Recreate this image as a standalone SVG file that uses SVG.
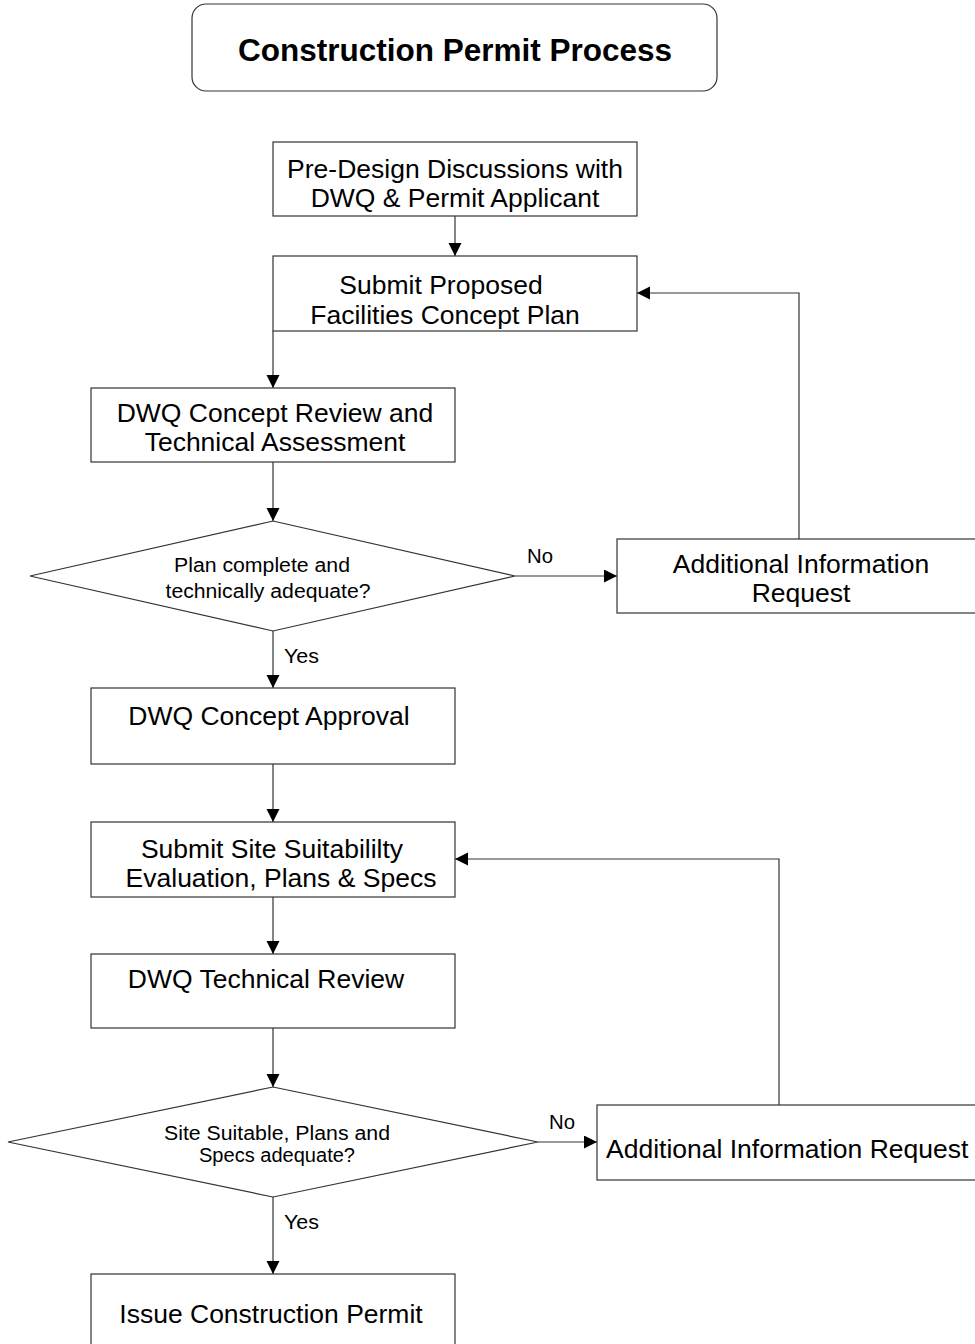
<svg xmlns="http://www.w3.org/2000/svg" width="975" height="1344" viewBox="0 0 975 1344">
<style>
.box{fill:#fff;stroke:#333;stroke-width:1.2}
.t{font-family:"Liberation Sans",Arial,sans-serif;font-size:26.5px;fill:#000;text-anchor:middle}
.d{font-family:"Liberation Sans",Arial,sans-serif;font-size:20px;fill:#000;text-anchor:middle}
.l{font-family:"Liberation Sans",Arial,sans-serif;font-size:20px;fill:#000}
.c{fill:none;stroke:#333;stroke-width:1.2}
</style>
<defs>
<marker id="ah" markerWidth="14" markerHeight="14" refX="13" refY="6.5" orient="auto" markerUnits="userSpaceOnUse">
<path d="M0,0 L13,6.5 L0,13 Z" fill="#000"/>
</marker>
</defs>
<rect width="975" height="1344" fill="#fff"/>
<g id="title">
<rect class="box" x="192" y="4" width="525" height="87" rx="14"/>
<text x="455" y="61" font-family="Liberation Sans,Arial,sans-serif" font-size="31.5" font-weight="bold" text-anchor="middle">Construction Permit Process</text>
</g>
<g id="connectors">
<path class="c" d="M455,216 V256" marker-end="url(#ah)"/>
<path class="c" d="M273,331 V388" marker-end="url(#ah)"/>
<path class="c" d="M273,462 V521" marker-end="url(#ah)"/>
<path class="c" d="M515,576 H617" marker-end="url(#ah)"/>
<path class="c" d="M799,539 V293 H637" marker-end="url(#ah)"/>
<path class="c" d="M273,631 V688" marker-end="url(#ah)"/>
<path class="c" d="M273,764 V822" marker-end="url(#ah)"/>
<path class="c" d="M273,897 V954" marker-end="url(#ah)"/>
<path class="c" d="M779,1105 V859 H455" marker-end="url(#ah)"/>
<path class="c" d="M273,1028 V1087" marker-end="url(#ah)"/>
<path class="c" d="M538,1142 H597" marker-end="url(#ah)"/>
<path class="c" d="M273,1197 V1274" marker-end="url(#ah)"/>
<text class="l" x="527" y="563" textLength="26" lengthAdjust="spacingAndGlyphs">No</text>
<text class="l" x="284" y="663" textLength="35" lengthAdjust="spacingAndGlyphs">Yes</text>
<text class="l" x="549" y="1129" textLength="26" lengthAdjust="spacingAndGlyphs">No</text>
<text class="l" x="284" y="1229" textLength="35" lengthAdjust="spacingAndGlyphs">Yes</text>
</g>
<g id="n1">
<rect class="box" x="273" y="142" width="364" height="74"/>
<text class="t" x="455" y="178">Pre-Design Discussions with</text>
<text class="t" x="455" y="207">DWQ &amp; Permit Applicant</text>
</g>
<g id="n2">
<rect class="box" x="273" y="256" width="364" height="75"/>
<text class="t" x="441" y="294">Submit Proposed</text>
<text class="t" x="445" y="324">Facilities Concept Plan</text>
</g>
<g id="n3">
<rect class="box" x="91" y="388" width="364" height="74"/>
<text class="t" x="275" y="422">DWQ Concept Review and</text>
<text class="t" x="275" y="451">Technical Assessment</text>
</g>
<g id="d1">
<polygon class="box" points="273,521 515,576 273,631 30,576"/>
<text class="d" x="262" y="572" textLength="176" lengthAdjust="spacingAndGlyphs">Plan complete and</text>
<text class="d" x="268" y="598" textLength="205" lengthAdjust="spacingAndGlyphs">technically adequate?</text>
</g>
<g id="air1">
<rect class="box" x="617" y="539" width="370" height="74"/>
<text class="t" x="801" y="573">Additional Information</text>
<text class="t" x="801" y="602">Request</text>
</g>
<g id="n4">
<rect class="box" x="91" y="688" width="364" height="76"/>
<text class="t" x="269" y="725">DWQ Concept Approval</text>
</g>
<g id="n5">
<rect class="box" x="91" y="822" width="364" height="75"/>
<text class="t" x="272" y="858">Submit Site Suitabililty</text>
<text class="t" x="281" y="887">Evaluation, Plans &amp; Specs</text>
</g>
<g id="n6">
<rect class="box" x="91" y="954" width="364" height="74"/>
<text class="t" x="266" y="988">DWQ Technical Review</text>
</g>
<g id="d2">
<polygon class="box" points="273,1087 538,1142 273,1197 8,1142"/>
<text class="d" x="277" y="1140" textLength="226" lengthAdjust="spacingAndGlyphs">Site Suitable, Plans and</text>
<text class="d" x="277" y="1162" textLength="156" lengthAdjust="spacingAndGlyphs">Specs adequate?</text>
</g>
<g id="air2">
<rect class="box" x="597" y="1105" width="390" height="75"/>
<text class="t" x="606" y="1158" style="text-anchor:start">Additional Information Request</text>
</g>
<g id="n7">
<rect class="box" x="91" y="1274" width="364" height="80"/>
<text class="t" x="271" y="1323">Issue Construction Permit</text>
</g>
</svg>
